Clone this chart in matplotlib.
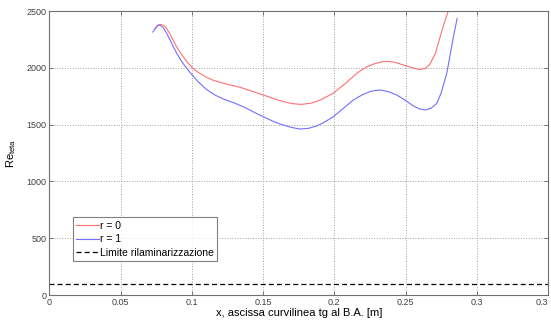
import numpy as np
import matplotlib.pyplot as plt

plt.rcParams['font.family'] = ['Liberation Sans', 'DejaVu Sans']

# curva r = 0
x_r0 = [0.0740, 0.0760, 0.0780, 0.0800, 0.0820, 0.0845, 0.0869, 0.0893, 0.0916,
        0.0940, 0.0970, 0.1000, 0.1035, 0.1070, 0.1100, 0.1150, 0.1250, 0.1340,
        0.1420, 0.1500, 0.1620, 0.1700, 0.1770, 0.1840, 0.1900, 0.1990, 0.2080,
        0.2157, 0.2220, 0.2274, 0.2330, 0.2370, 0.2420, 0.2485, 0.2550, 0.2600,
        0.2640, 0.2672, 0.2710, 0.2742, 0.2770, 0.2800, 0.2830]
re_r0 = [2345, 2375, 2382, 2375, 2350, 2300, 2240, 2185, 2140,
         2095, 2045, 2005, 1968, 1940, 1918, 1890, 1855, 1828,
         1795, 1761, 1710, 1685, 1678, 1690, 1716, 1775, 1865,
         1951, 2005, 2033, 2052, 2057, 2050, 2025, 2000, 1985,
         1995, 2035, 2130, 2270, 2390, 2500, 2650]

# curva r = 1
x_r1 = [0.0725, 0.0745, 0.0764, 0.0780, 0.0800, 0.0820, 0.0845, 0.0869, 0.0893,
        0.0916, 0.0940, 0.0964, 0.1000, 0.1050, 0.1104, 0.1160, 0.1221, 0.1300,
        0.1385, 0.1450, 0.1500, 0.1560, 0.1619, 0.1700, 0.1759, 0.1820, 0.1876,
        0.1930, 0.1993, 0.2060, 0.2133, 0.2200, 0.2260, 0.2321, 0.2380, 0.2438,
        0.2500, 0.2555, 0.2600, 0.2637, 0.2680, 0.2719, 0.2750, 0.2789, 0.2836,
        0.2862]
re_r1 = [2315, 2350, 2377, 2372, 2350, 2310, 2250, 2186, 2130,
         2080, 2035, 1995, 1940, 1870, 1808, 1762, 1725, 1690,
         1643, 1600, 1570, 1535, 1505, 1475, 1461, 1468, 1488,
         1522, 1570, 1640, 1717, 1765, 1795, 1805, 1790, 1761,
         1712, 1664, 1638, 1629, 1645, 1687, 1780, 1951, 2274,
         2435]

x_lim = [0, 0.35]
re_lim = [100, 100]

x_ticks = [0, 0.05, 0.1, 0.15, 0.2, 0.25, 0.3, 0.35]
x_tick_labels = ['0', '0.05', '0.1', '0.15', '0.2', '0.25', '0.3', '0.3']
y_ticks = [0, 500, 1000, 1500, 2000, 2500]

fig = plt.figure(figsize=(5.51, 3.25), dpi=100)
ax = fig.add_axes([0.0898, 0.0923, 0.9048, 0.8737])

ax.plot(x_r0, re_r0, color='#ff7070', linewidth=0.8, label='r = 0')
ax.plot(x_r1, re_r1, color='#7070ff', linewidth=0.8, label='r = 1')
ax.plot(x_lim, re_lim, color='black', linestyle='--', linewidth=0.9,
        dashes=(4, 2.5), label='Limite rilaminarizzazione')

ax.set_xlim(0, 0.35)
ax.set_ylim(0, 2500)
ax.set_xticks(x_ticks)
ax.set_xticklabels(x_tick_labels)
ax.set_yticks(y_ticks)
ax.get_xticklabels()[-1].set_horizontalalignment('right')

ax.grid(True, linestyle=':', color='#a0a0a0', linewidth=0.7)
ax.tick_params(direction='in', length=3, width=0.6, color='#606060',
               labelsize=6.5, labelcolor='#404040', top=True, right=True, pad=2)
for sp in ax.spines.values():
    sp.set_color('#707070')
    sp.set_linewidth(0.8)

ax.set_xlabel('x, ascissa curvilinea tg al B.A. [m]', fontsize=8, labelpad=1)
ax.set_ylabel(r'Re$_{\mathregular{teta}}$', fontsize=8, labelpad=6)

leg = ax.legend(loc='lower left', bbox_to_anchor=(0.047, 0.12), fontsize=7.5,
                frameon=True, fancybox=False, borderpad=0.3, labelspacing=0.35,
                handlelength=2.2, handletextpad=0.1, borderaxespad=0)
leg.get_frame().set_edgecolor('#606060')
leg.get_frame().set_linewidth(0.8)

fig.savefig('out.png', dpi=100)
